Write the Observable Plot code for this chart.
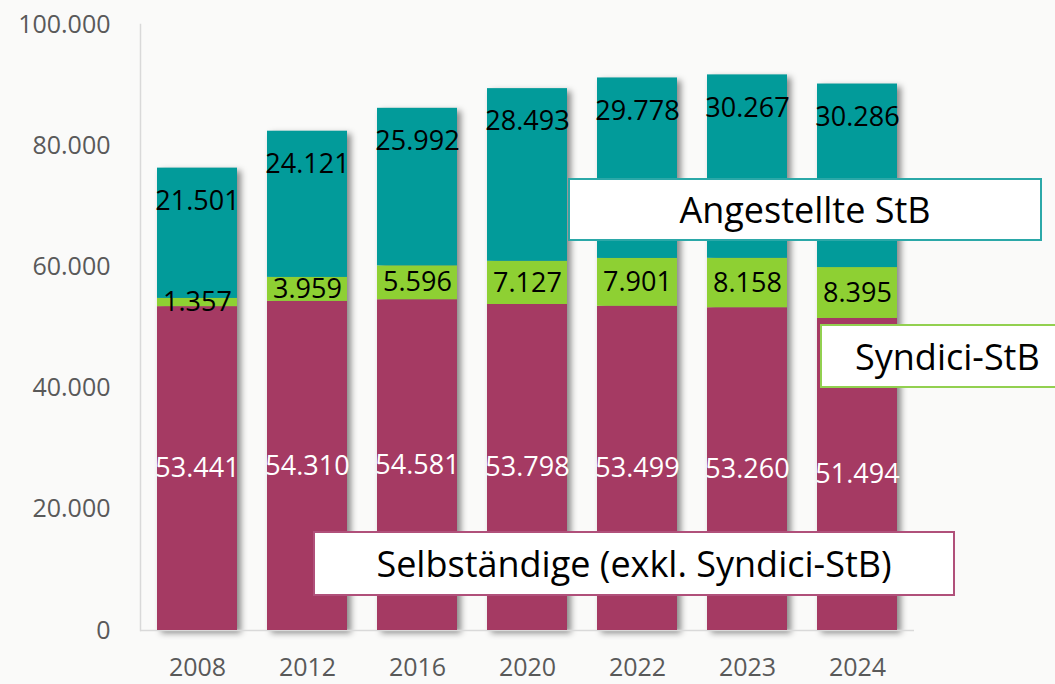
<!DOCTYPE html>
<html><head><meta charset="utf-8">
<script src="https://cdn.jsdelivr.net/npm/d3@7"></script>
<script src="https://cdn.jsdelivr.net/npm/@observablehq/plot@0.6"></script>
<style>
html,body{margin:0;padding:0;background:#fafaf9;font-family:"Open Sans",sans-serif}
#wrap{position:relative;width:1055px;height:684px;overflow:hidden;background:#fafaf9}
.lg{position:absolute;background:#fff;box-sizing:border-box;display:flex;align-items:center;justify-content:center;font-size:36px;color:#000;font-family:"Open Sans",sans-serif;white-space:nowrap}
</style></head><body><div id="wrap"></div>
<script>
const years = ["2008", "2012", "2016", "2020", "2022", "2023", "2024"];
const selbst = [53441, 54310, 54581, 53798, 53499, 53260, 51494];
const syndici = [1357, 3959, 5596, 7127, 7901, 8158, 8395];
const angestellte = [21501, 24121, 25992, 28493, 29778, 30267, 30286];
const seriesNames = ["Selbständige (exkl. Syndici-StB)", "Syndici-StB", "Angestellte StB"];
const seriesColors = ["#A53A63", "#8ED033", "#029B9A"];
const borderColors = ["#B0507A", "#92D050", "#2BA8A8"];
const yTicks = [0, 20000, 40000, 60000, 80000, 100000];

const de = d3.formatLocale({decimal: ",", thousands: ".", grouping: [3], currency: ["", "€"]});
const fmt = de.format(",d");

const values = [selbst, syndici, angestellte];
const rows = [];
const totals = [];
years.forEach((yr, i) => {
  let lo = 0;
  values.forEach((arr, s) => {
    rows.push({year: yr, series: seriesNames[s], value: arr[i], lo, hi: lo + arr[i]});
    lo += arr[i];
  });
  totals.push({year: yr, total: lo});
});

const chart = Plot.plot({
  width: 1055,
  height: 684,
  marginLeft: 140,
  marginRight: 141,
  marginTop: 24,
  marginBottom: 54,
  style: {background: "#fafaf9", fontFamily: "Open Sans, sans-serif", overflow: "visible"},
  x: {domain: years, paddingInner: 0.277, paddingOuter: 0.136, label: null},
  y: {domain: [0, 100000], label: null},
  color: {domain: seriesNames, range: seriesColors},
  marks: [
    Plot.barY(totals, {x: "year", y: "total", fill: "#000", fillOpacity: 0.45, dx: 4, dy: 3}),
    Plot.frame({anchor: "left", stroke: "#d9d9d9", strokeWidth: 1.5}),
    Plot.ruleY([0], {stroke: "#d9d9d9", strokeWidth: 1.5}),
    Plot.barY(rows, {x: "year", y1: "lo", y2: "hi", fill: "series"}),
    Plot.text(rows.filter(d => d.series === seriesNames[0]), {x: "year", y: d => (d.lo + d.hi) / 2, text: d => fmt(d.value), fill: "#fff", fontSize: 27}),
    Plot.text(rows.filter(d => d.series === seriesNames[1]), {x: "year", y: d => (d.lo + d.hi) / 2, text: d => fmt(d.value), fill: "#000", fontSize: 27}),
    Plot.text(rows.filter(d => d.series === seriesNames[2]), {x: "year", y: "hi", dy: 33, text: d => fmt(d.value), fill: "#000", fontSize: 27}),
    Plot.axisY({ticks: yTicks, tickSize: 0, tickPadding: 30, tickFormat: fmt, fill: "#595959", fontSize: 25}),
    Plot.axisX({tickSize: 0, tickPadding: 28, fill: "#595959", fontSize: 25})
  ]
});

const svgNS = "http://www.w3.org/2000/svg";
const defs = document.createElementNS(svgNS, "defs");
const filter = document.createElementNS(svgNS, "filter");
filter.setAttribute("id", "shblur");
filter.setAttribute("x", "-30%"); filter.setAttribute("y", "-10%");
filter.setAttribute("width", "160%"); filter.setAttribute("height", "120%");
const blur = document.createElementNS(svgNS, "feGaussianBlur");
blur.setAttribute("stdDeviation", "3");
filter.appendChild(blur);
defs.appendChild(filter);
chart.insertBefore(defs, chart.firstChild);
const barGroups = chart.querySelectorAll('g[aria-label="bar"]');
if (barGroups.length) barGroups[0].setAttribute("filter", "url(#shblur)");

const wrap = document.getElementById("wrap");
wrap.appendChild(chart);

const legendBoxes = [
  {name: seriesNames[0], left: 313, top: 531, width: 642, height: 65},
  {name: seriesNames[1], left: 820, top: 324, width: 250, height: 64},
  {name: seriesNames[2], left: 568, top: 178, width: 474, height: 63}
];
legendBoxes.forEach(b => {
  const s = seriesNames.indexOf(b.name);
  const el = document.createElement("div");
  el.className = "lg";
  el.textContent = b.name;
  Object.assign(el.style, {left: b.left + "px", top: b.top + "px", width: b.width + "px", height: b.height + "px", border: "2px solid " + borderColors[s]});
  if (s === 1) { el.style.justifyContent = "flex-start"; el.style.paddingLeft = "33px"; }
  wrap.appendChild(el);
});
</script>
</body></html>
